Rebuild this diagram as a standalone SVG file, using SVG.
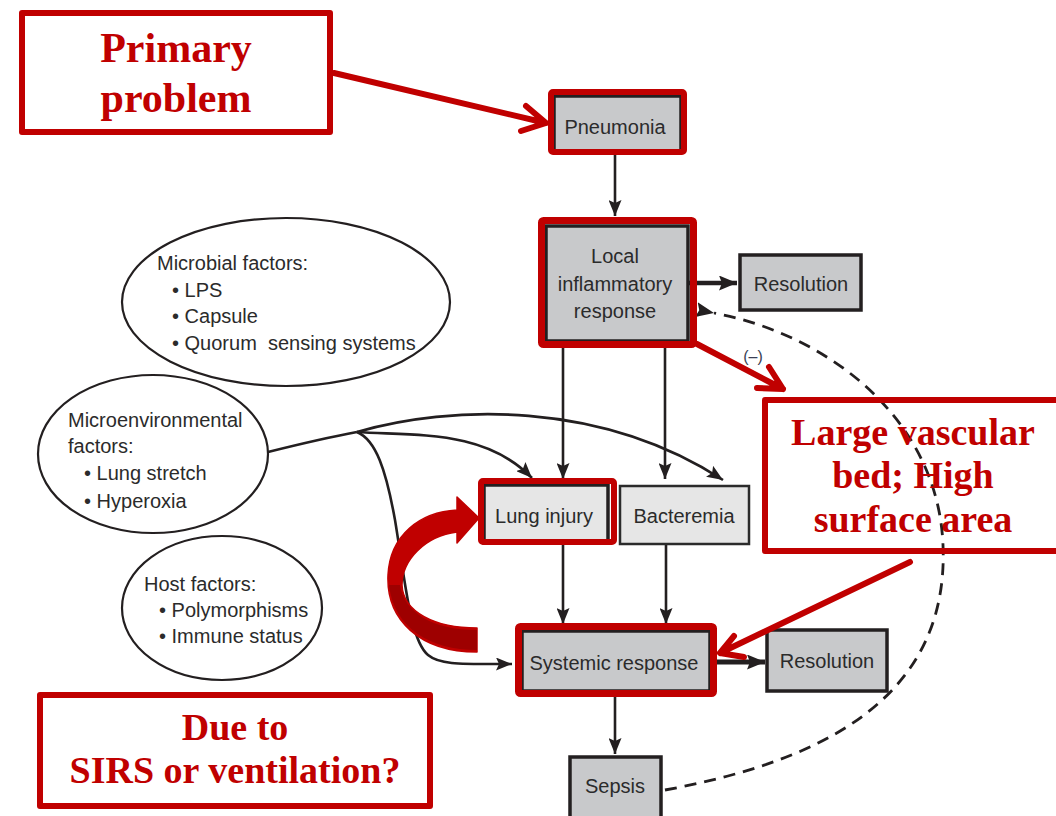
<svg xmlns="http://www.w3.org/2000/svg" width="1056" height="816" viewBox="0 0 1056 816">
<defs>
<marker id="ah" viewBox="0 0 16 13" refX="16" refY="6.5" markerWidth="16" markerHeight="13" markerUnits="userSpaceOnUse" orient="auto">
<path d="M0,0 L16,6.5 L0,13 L3,6.5 Z" fill="#231f20"/>
</marker>
<marker id="ahb" viewBox="0 0 18 15" refX="18" refY="7.5" markerWidth="18" markerHeight="15" markerUnits="userSpaceOnUse" orient="auto">
<path d="M0,0 L18,7.5 L0,15 L3,7.5 Z" fill="#231f20"/>
</marker>
<marker id="ahd" viewBox="0 0 18 15" refX="0" refY="7.5" markerWidth="18" markerHeight="15" markerUnits="userSpaceOnUse" orient="auto">
<path d="M18,0 L0,7.5 L18,15 L15,7.5 Z" fill="#231f20"/>
</marker>
<style>
.box{fill:#c8c9cb;stroke:#231f20;stroke-width:3.5}
.lbox{fill:#e6e6e6;stroke:#2b2b2b;stroke-width:2.5}
.red{fill:none;stroke:#c00000;stroke-width:6;stroke-linejoin:round}
.redl{fill:none;stroke:#c00000;stroke-width:6;stroke-linecap:round;stroke-linejoin:round}
.ell{fill:#fff;stroke:#231f20;stroke-width:2.2}
.t{font-family:"Liberation Sans",Arial,sans-serif;font-size:20px;fill:#2b2b2b}
.tc{text-anchor:middle}
.rt{font-family:"Liberation Serif","Times New Roman",serif;font-weight:bold;fill:#c00000;text-anchor:middle}
.c{fill:none;stroke:#231f20;stroke-width:2.6}
.cd{fill:none;stroke:#231f20;stroke-width:2.8;stroke-dasharray:12,8}
</style>
</defs>
<rect width="1056" height="816" fill="#fff"/>

<g id="connectors">
<line class="c" x1="615" y1="155" x2="615" y2="216" marker-end="url(#ah)"/>
<line class="c" x1="688" y1="283" x2="737" y2="283" style="stroke-width:4.5" marker-end="url(#ahb)"/>
<line class="c" x1="563" y1="342" x2="563" y2="479" marker-end="url(#ah)"/>
<line class="c" x1="665" y1="342" x2="665" y2="479" marker-end="url(#ah)"/>
<line class="c" x1="563" y1="545" x2="563" y2="624" marker-end="url(#ah)"/>
<line class="c" x1="666" y1="545" x2="666" y2="624" marker-end="url(#ah)"/>
<line class="c" x1="717" y1="662" x2="765" y2="662" style="stroke-width:5" marker-end="url(#ahb)"/>
<line class="c" x1="615" y1="697" x2="615" y2="754" marker-end="url(#ah)"/>
<path class="c" d="M268,452 C300,444 330,437 357,432"/>
<path class="c" d="M357,432 C450,405 600,400 723,480" marker-end="url(#ah)"/>
<path class="c" d="M357,432 C420,436 485,430 532,478" marker-end="url(#ah)"/>
<path class="c" d="M357,432 C376,440 386,470 395,520 C405,580 410,640 428,655 C440,665 460,664 512,664" marker-end="url(#ah)"/>
<path class="cd" d="M665,790 C800,765 950,710 943,545 C938,420 830,335 714,313" marker-end="url(#ahd)"/>
<text class="t" x="753" y="362" style="font-size:16px;fill:#3a3f55" text-anchor="middle">(–)</text>
</g>

<g id="ellipse-microbial">
<ellipse class="ell" cx="286" cy="302" rx="164" ry="84"/>
<text class="t" x="157" y="270">Microbial factors:</text>
<text class="t" x="172" y="297">• LPS</text>
<text class="t" x="172" y="323">• Capsule</text>
<text class="t" x="172" y="350" style="white-space:pre">• Quorum  sensing systems</text>
</g>

<g id="ellipse-microenv">
<ellipse class="ell" cx="153" cy="454" rx="115" ry="79"/>
<text class="t" x="68" y="427">Microenvironmental</text>
<text class="t" x="68" y="453">factors:</text>
<text class="t" x="84" y="480">• Lung stretch</text>
<text class="t" x="84" y="508">• Hyperoxia</text>
</g>

<g id="ellipse-host">
<ellipse class="ell" cx="222" cy="608" rx="100" ry="72"/>
<text class="t" x="144" y="591">Host factors:</text>
<text class="t" x="159" y="617">• Polymorphisms</text>
<text class="t" x="159" y="643">• Immune status</text>
</g>

<g id="pneumonia">
<rect class="box" x="554" y="96" width="127" height="55"/>
<rect class="red" x="551" y="92" width="133" height="60" rx="2"/>
<text class="t tc" x="615" y="134">Pneumonia</text>
</g>

<g id="local">
<rect class="box" x="546" y="226" width="142" height="115"/>
<rect class="red" x="541.5" y="220.5" width="152" height="124" rx="2" style="stroke-width:7"/>
<text class="t tc" x="615" y="263">Local</text>
<text class="t tc" x="615" y="291">inflammatory</text>
<text class="t tc" x="615" y="318">response</text>
</g>

<g id="resolution1">
<rect class="box" x="740" y="255" width="121" height="55"/>
<text class="t tc" x="801" y="291">Resolution</text>
</g>

<g id="lung-injury">
<rect class="lbox" x="484" y="485" width="124" height="58" style="stroke-width:3.5;stroke:#231f20"/>
<rect class="red" x="481" y="481" width="133" height="61" rx="2"/>
<text class="t tc" x="544" y="523">Lung injury</text>
</g>

<g id="bacteremia">
<rect class="lbox" x="620" y="486" width="129" height="58"/>
<text class="t tc" x="684" y="523">Bacteremia</text>
</g>

<g id="systemic">
<rect class="box" x="522" y="631" width="188" height="60"/>
<rect class="red" x="518.5" y="626.5" width="195" height="67" rx="2" style="stroke-width:7"/>
<text class="t tc" x="614" y="670">Systemic response</text>
</g>

<g id="resolution2">
<rect class="box" x="767" y="630" width="120" height="61"/>
<text class="t tc" x="827" y="668">Resolution</text>
</g>

<g id="sepsis">
<rect class="box" x="570" y="757" width="91" height="70"/>
<text class="t tc" x="615" y="793">Sepsis</text>
</g>

<g id="primary-problem">
<rect class="red" x="22" y="13" width="308" height="119"/>
<text class="rt" x="176" y="62" style="font-size:42px">Primary</text>
<text class="rt" x="176" y="112" style="font-size:42px">problem</text>
<path class="redl" d="M334,73 L546,123 M526,106 L546,123 L521,131"/>
</g>

<g id="large-vascular">
<rect class="red" x="765" y="400" width="300" height="151"/>
<text class="rt" x="913" y="445" style="font-size:38px">Large vascular</text>
<text class="rt" x="913" y="488" style="font-size:38px">bed; High</text>
<text class="rt" x="913" y="532" style="font-size:38px">surface area</text>
<path class="redl" d="M697,344 L783,389 M757,388 L783,389 L769,367"/>
<path class="redl" d="M910,562 L720,653 M734,636 L720,653 L744,657"/>
</g>

<g id="due-to">
<rect class="red" x="40" y="695" width="390" height="111"/>
<text class="rt" x="235" y="740" style="font-size:38px">Due to</text>
<text class="rt" x="235" y="783" style="font-size:38px">SIRS or ventilation?</text>
</g>

<g id="curved-arrow">
<path d="M477,652 C420,652 386,620 388,575 C390,535 420,512 457,510 L457,497 L479,518 L457,543 L457,532 C425,536 402,560 402,585 C403,612 435,628 477,628 Z" fill="#c00000" stroke="#c00000" stroke-width="1.5" stroke-linejoin="round"/>
<path d="M389,585 C394,628 430,650 477,650 L477,630 C432,630 404,612 400,585 Z" fill="#9e0000"/>
</g>
</svg>
